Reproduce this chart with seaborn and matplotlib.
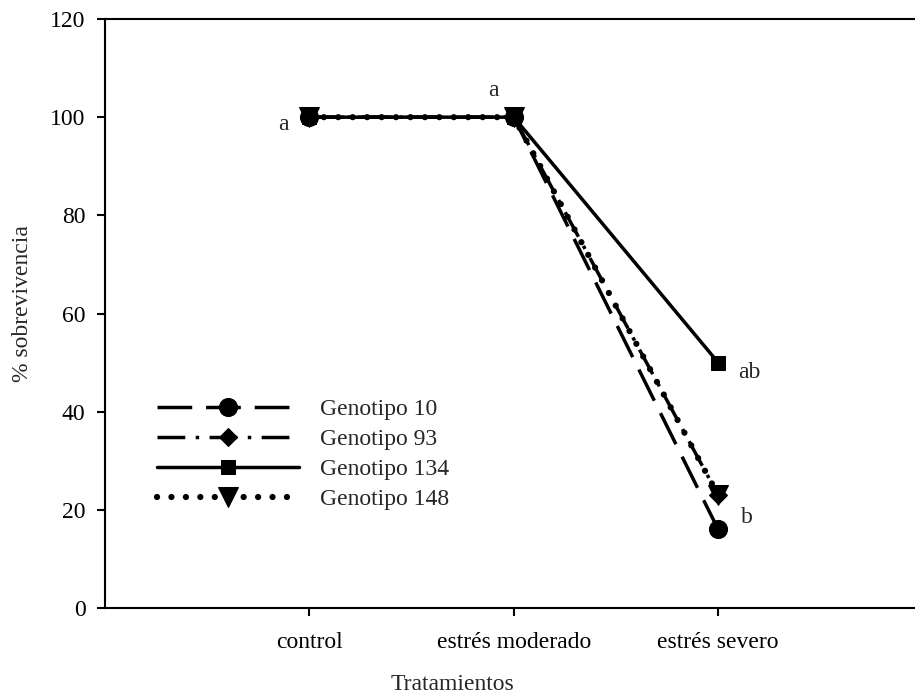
import matplotlib
matplotlib.use("Agg")
import matplotlib.pyplot as plt
import seaborn as sns
import pandas as pd

tratamientos = ["control", "estrés moderado", "estrés severo"]
genotipos = ["Genotipo 10", "Genotipo 93", "Genotipo 134", "Genotipo 148"]
g10 = [100, 100, 16]
g93 = [100, 100, 23]
g134 = [100, 100, 50]
g148 = [100, 100, 23]
letras = ["a", "a", "ab", "b"]

sns.set_theme(style="white")
plt.rcParams["font.family"] = ["Liberation Serif", "DejaVu Serif"]

rows = []
for name, vals in zip(genotipos, [g10, g93, g134, g148]):
    for t, v in zip(tratamientos, vals):
        rows.append({"Tratamientos": t, "Genotipo": name, "sobrevivencia": v})
df = pd.DataFrame(rows)

fig = plt.figure(figsize=(9.15, 6.96), dpi=100)
ax = fig.add_axes([105 / 915, 88 / 696, 1 - 105 / 915, (608 - 19) / 696])

styles = {
    "Genotipo 10": dict(linestyle=(0, (10, 4)), marker="o", markersize=13),
    "Genotipo 93": dict(linestyle=(0, (8, 3, 1, 3)), marker="D", markersize=9),
    "Genotipo 134": dict(linestyle="-", marker="s", markersize=10),
    "Genotipo 148": dict(linestyle=(0, (0.01, 2.3)), marker="v", markersize=14,
                         dash_capstyle="round", linewidth=4.5),
}

for name in genotipos:
    st = dict(linewidth=2.5, color="black")
    st.update(styles[name])
    sns.lineplot(data=df[df["Genotipo"] == name], x="Tratamientos", y="sobrevivencia",
                 ax=ax, label=name, markeredgecolor="black", markerfacecolor="black",
                 sort=False, **st)

fs = 17
ax.set_xlim(-1, 2.963)
ax.set_ylim(0, 120)
ax.set_yticks([0, 20, 40, 60, 80, 100, 120])
ax.set_xticks([0, 1, 2])
ax.set_xticklabels(tratamientos)
ax.set_xlabel("Tratamientos", fontsize=fs, va="center")
ax.set_ylabel("% sobrevivencia", fontsize=fs, va="center")
ax.xaxis.set_label_coords((452 - 105) / 810, (608 - 685) / 589)
ax.yaxis.set_label_coords((23 - 105) / 810, (608 - 304) / 589)
ax.tick_params(axis="x", pad=11)
ax.tick_params(axis="y", pad=8)
ax.tick_params(axis="both", labelsize=fs, direction="out", length=6, width=1.5,
               colors="black", bottom=True, left=True)
for side in ["left", "bottom", "top"]:
    ax.spines[side].set_color("black")
    ax.spines[side].set_linewidth(1.5)
ax.spines["right"].set_visible(False)

ax.text(-0.1, 98.5, letras[0], fontsize=fs, ha="right", va="center")
ax.text(0.9, 105.5, letras[1], fontsize=fs, ha="center", va="center")
ax.text(2.1, 48, letras[2], fontsize=fs, ha="left", va="center")
ax.text(2.11, 18.5, letras[3], fontsize=fs, ha="left", va="center")

ax.legend(loc="upper left", bbox_to_anchor=(0.053, 0.371), frameon=False, fontsize=fs,
          handlelength=6.0, handletextpad=0.9, labelspacing=0.35, numpoints=1,
          borderaxespad=0)

fig.savefig("out.png", dpi=100)
